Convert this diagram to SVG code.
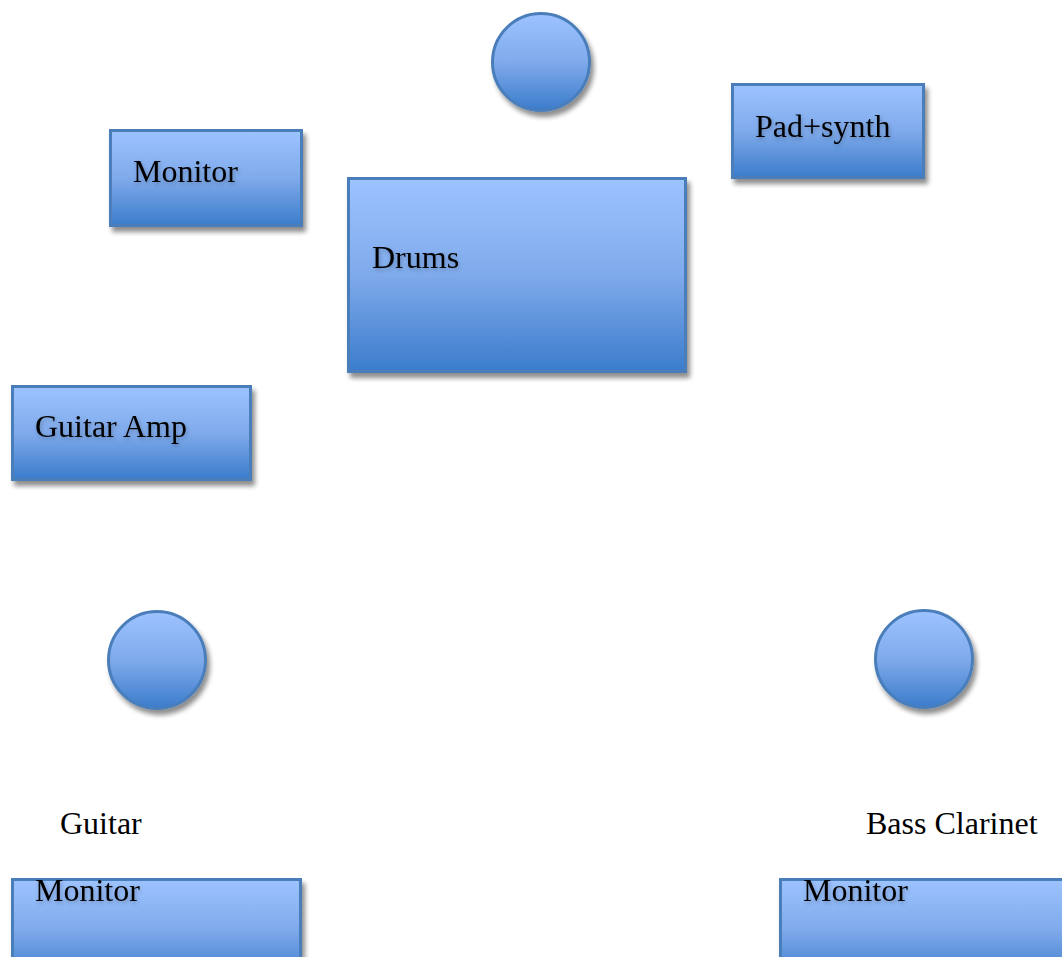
<svg xmlns="http://www.w3.org/2000/svg" width="1062" height="957" viewBox="0 0 1062 957">
<defs>
<linearGradient id="g" x1="0" y1="0" x2="0" y2="1">
<stop offset="0" stop-color="#9dc3ff"/>
<stop offset="0.5" stop-color="#7faaeb"/>
<stop offset="1" stop-color="#3b7ccb"/>
</linearGradient>
<filter id="sh" x="-20%" y="-20%" width="140%" height="150%">
<feGaussianBlur in="SourceAlpha" stdDeviation="2.5"/>
<feOffset dx="3" dy="5" result="b"/>
<feComponentTransfer><feFuncA type="linear" slope="0.45"/></feComponentTransfer>
<feMerge><feMergeNode/><feMergeNode in="SourceGraphic"/></feMerge>
</filter>
<filter id="ts" x="-10%" y="-30%" width="120%" height="160%">
<feGaussianBlur in="SourceAlpha" stdDeviation="2"/>
<feOffset dx="1" dy="2"/>
<feComponentTransfer><feFuncA type="linear" slope="0.25"/></feComponentTransfer>
<feMerge><feMergeNode/><feMergeNode in="SourceGraphic"/></feMerge>
</filter>
</defs>
<style>
.n{fill:url(#g);stroke:#4a7ebb;stroke-width:3;filter:url(#sh)}
.t{font-family:"Liberation Serif",serif;font-size:32px;fill:#000}
.l{filter:url(#ts)}
</style>
<rect width="1062" height="957" fill="#fff"/>
<g id="circle-top"><circle class="n" cx="541" cy="62" r="48.5"/></g>
<g id="monitor-top"><rect class="n" x="110.5" y="130.5" width="191" height="95"/><text class="t l" x="133" y="182">Monitor</text></g>
<g id="pad-synth"><rect class="n" x="732.5" y="84.5" width="191" height="93"/><text class="t l" x="755" y="137">Pad+synth</text></g>
<g id="drums"><rect class="n" x="348.5" y="178.5" width="337" height="193"/><text class="t l" x="372" y="268">Drums</text></g>
<g id="guitar-amp"><rect class="n" x="12.5" y="386.5" width="238" height="93"/><text class="t l" x="35" y="437">Guitar Amp</text></g>
<g id="circle-guitar"><circle class="n" cx="157" cy="660" r="48.5"/></g>
<g id="circle-bass"><circle class="n" cx="924" cy="659" r="48.5"/></g>
<g id="label-guitar"><text class="t" x="60" y="834">Guitar</text></g>
<g id="label-bass"><text class="t" x="866" y="834">Bass Clarinet</text></g>
<g id="monitor-guitar"><rect class="n" x="12.5" y="879.5" width="288" height="100"/><text class="t l" x="35" y="901">Monitor</text></g>
<g id="monitor-bass"><rect class="n" x="780.5" y="879.5" width="300" height="100"/><text class="t l" x="803" y="901">Monitor</text></g>
<g id="connectors"></g>
</svg>
